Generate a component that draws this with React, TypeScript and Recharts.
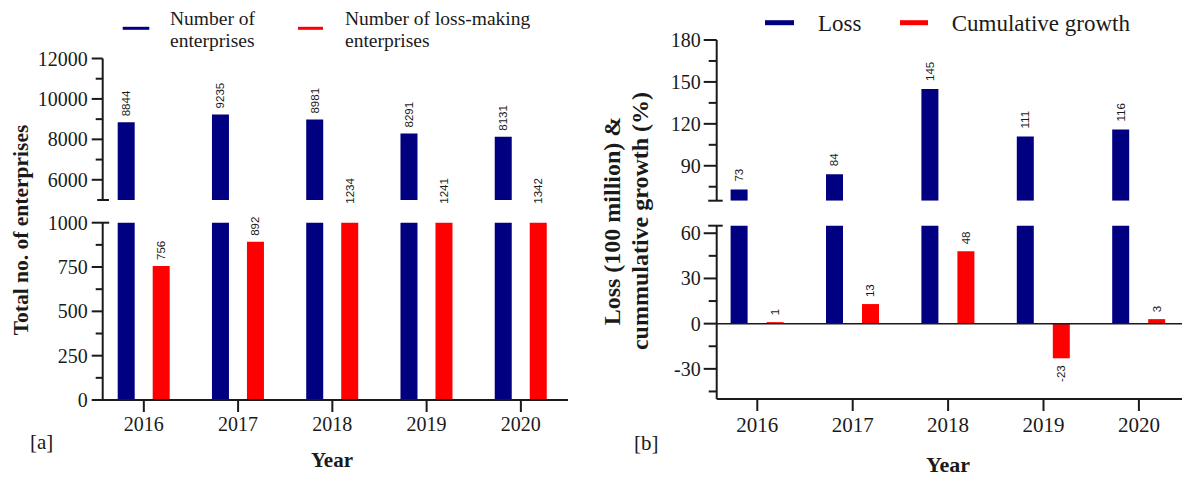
import { Bar, BarChart, LabelList, ReferenceLine, XAxis, YAxis } from "recharts";

const YEARS = ["2016", "2017", "2018", "2019", "2020"];
const ENTERPRISES = [8844, 9235, 8981, 8291, 8131];
const LOSS_MAKING = [756, 892, 1234, 1241, 1342];
const LOSS = [73, 84, 145, 111, 116];
const CUM_GROWTH = [1, 13, 48, -23, 3];

// broken y axes: upper and lower segments, minor ticks included
const ENT_TOP_TICKS = [5000, 6000, 7000, 8000, 9000, 10000, 11000, 12000];
const ENT_BOTTOM_TICKS = [0, 125, 250, 375, 500, 625, 750, 875, 1000];
const LOSS_TOP_TICKS = [65, 75, 90, 105, 120, 135, 150, 165, 180];
const LOSS_BOTTOM_TICKS = [-45, -30, -15, 0, 15, 30, 45, 60, 65];

const NAVY = "#000080";
const RED = "#ff0000";
const INK = "#1a1a1a";
const SERIF = '"Liberation Serif", "Times New Roman", serif';
const SANS = '"Liberation Sans", Arial, sans-serif';

const enterpriseData = YEARS.map((year, i) => ({ year, total: ENTERPRISES[i], lossMaking: LOSS_MAKING[i] }));
const lossData = YEARS.map((year, i) => ({ year, loss: LOSS[i], growth: CUM_GROWTH[i] }));

type TickStyle = {
    labelStep: number;
    major: number;
    minor: number;
    gap: number;
    fontSize: number;
    caps?: Record<number, [number, number]>;
};

// tickSize/tickMargin are 0 on the axis, so x is the axis line itself
const yTick = (s: TickStyle) => (props: any) => {
    const { x, y, payload } = props;
    const v = payload.value as number;
    const labelled = v % s.labelStep === 0;
    const cap = s.caps?.[v];
    const left = cap ? cap[0] : labelled ? s.major : s.minor;
    const right = cap ? cap[1] : 0;
    return (
        <g>
            <line x1={x - left} x2={x + right} y1={y} y2={y} stroke={INK} strokeWidth={2} />
            {labelled && (
                <text
                    x={x - s.major - s.gap}
                    y={y}
                    textAnchor="end"
                    dominantBaseline="central"
                    fontSize={s.fontSize}
                    fontFamily={SERIF}
                    fill={INK}
                >
                    {v}
                </text>
            )}
        </g>
    );
};

// vertical value label above (or below, for negatives) the bar;
// floor keeps labels of bars cut by the axis break just under the gap
const barLabel = (gap: number, floor?: number) => (props: any) => {
    const vb = props.viewBox ?? props;
    const { x, y, width, height } = vb;
    const value = Number(props.value);
    const cx = x + width / 2;
    const top = Math.min(y, y + height);
    const bottom = Math.max(y, y + height);
    let ay = value >= 0 ? top - gap : bottom + gap;
    if (floor !== undefined && value >= 0) ay = Math.max(ay, floor);
    return (
        <text
            x={cx}
            y={ay}
            transform={`rotate(-90 ${cx} ${ay})`}
            textAnchor={value >= 0 ? "start" : "end"}
            dominantBaseline="central"
            fontSize={11.5}
            fontFamily={SANS}
            fill={INK}
        >
            {value}
        </text>
    );
};

const axisLine = { stroke: INK, strokeWidth: 2 };
const yearTick = { fontSize: 20, fontFamily: SERIF, fill: INK };
const abs = { position: "absolute" as const, left: 0, top: 0 };

function EnterprisesPanel() {
    const pad = { left: -6, right: 0 };
    const margin = { right: 32, left: 42.7 };
    return (
        <>
            <div style={abs}>
                <BarChart width={600} height={215} data={enterpriseData} margin={{ ...margin, top: 58.5, bottom: 15 }} barSize={17} barGap={18}>
                    <XAxis dataKey="year" hide padding={pad} />
                    <YAxis
                        width={60}
                        domain={[5000, 12000]}
                        allowDataOverflow
                        ticks={ENT_TOP_TICKS}
                        interval={0}
                        tickSize={0}
                        tickMargin={0}
                        tickLine={false}
                        axisLine={axisLine}
                        tick={yTick({ labelStep: 2000, major: 11, minor: 7, gap: 4, fontSize: 20, caps: { 5000: [5.5, 6.3] } })}
                    />
                    <Bar dataKey="total" fill={NAVY} isAnimationActive={false}>
                        <LabelList dataKey="total" content={barLabel(6)} />
                    </Bar>
                    {/* loss-making counts never reach the upper segment; kept for bar placement */}
                    <Bar dataKey="lossMaking" fill="transparent" isAnimationActive={false} />
                </BarChart>
            </div>
            <div style={abs}>
                <BarChart width={600} height={480} data={enterpriseData} margin={{ ...margin, top: 222.7, bottom: 40 }} barSize={17} barGap={18}>
                    <XAxis
                        dataKey="year"
                        height={40}
                        padding={pad}
                        interval={0}
                        tickSize={12}
                        tickMargin={5}
                        tick={yearTick}
                        tickLine={axisLine}
                        axisLine={axisLine}
                    />
                    <YAxis
                        width={60}
                        domain={[0, 1000]}
                        allowDataOverflow
                        ticks={ENT_BOTTOM_TICKS}
                        interval={0}
                        tickSize={0}
                        tickMargin={0}
                        tickLine={false}
                        axisLine={axisLine}
                        tick={yTick({ labelStep: 250, major: 11, minor: 7, gap: 4, fontSize: 20, caps: { 1000: [11, 6.5] } })}
                    />
                    <Bar dataKey="total" fill={NAVY} isAnimationActive={false} />
                    <Bar dataKey="lossMaking" fill={RED} isAnimationActive={false}>
                        <LabelList dataKey="lossMaking" content={barLabel(6, 203.7)} />
                    </Bar>
                </BarChart>
            </div>
        </>
    );
}

function LossPanel() {
    const pad = { left: -7.1, right: -4.6 };
    const margin = { right: 0, left: 656.7 };
    return (
        <>
            <div style={abs}>
                <BarChart width={1182} height={215} data={lossData} margin={{ ...margin, top: 40, bottom: 14.3 }} barSize={17} barGap={19}>
                    <XAxis dataKey="year" hide padding={pad} />
                    <YAxis
                        width={60}
                        domain={[65, 180]}
                        allowDataOverflow
                        ticks={LOSS_TOP_TICKS}
                        interval={0}
                        tickSize={0}
                        tickMargin={0}
                        tickLine={false}
                        axisLine={axisLine}
                        tick={yTick({ labelStep: 30, major: 13, minor: 8, gap: 3, fontSize: 20, caps: { 65: [8.5, 6] } })}
                    />
                    <Bar dataKey="loss" fill={NAVY} isAnimationActive={false}>
                        <LabelList dataKey="loss" content={barLabel(8)} />
                    </Bar>
                    {/* growth stays below the break; kept for bar placement */}
                    <Bar dataKey="growth" fill="transparent" isAnimationActive={false} />
                </BarChart>
            </div>
            <div style={abs}>
                <BarChart width={1182} height={480} data={lossData} margin={{ ...margin, top: 225.7, bottom: 41 }} barSize={17} barGap={19}>
                    <XAxis
                        dataKey="year"
                        height={40}
                        padding={pad}
                        interval={0}
                        tickSize={12}
                        tickMargin={6}
                        tick={{ ...yearTick, fontSize: 21 }}
                        tickLine={axisLine}
                        axisLine={axisLine}
                    />
                    <YAxis
                        width={60}
                        domain={[-50, 65]}
                        allowDataOverflow
                        ticks={LOSS_BOTTOM_TICKS}
                        interval={0}
                        tickSize={0}
                        tickMargin={0}
                        tickLine={false}
                        axisLine={axisLine}
                        tick={yTick({ labelStep: 30, major: 13, minor: 8, gap: 3, fontSize: 20, caps: { 65: [8.5, 6] } })}
                    />
                    <ReferenceLine y={0} stroke={INK} strokeWidth={1.5} />
                    <Bar dataKey="loss" fill={NAVY} isAnimationActive={false} />
                    <Bar dataKey="growth" fill={RED} isAnimationActive={false}>
                        <LabelList dataKey="growth" content={barLabel(7)} />
                    </Bar>
                </BarChart>
            </div>
        </>
    );
}

// legends, axis titles and panel tags
function Annotations() {
    const serif = { fontFamily: SERIF, fill: INK };
    return (
        <svg width={1182} height={480} style={{ ...abs, pointerEvents: "none" }}>
            <rect x={122.7} y={26.8} width={26.6} height={3} fill={NAVY} />
            <text x={170} y={24.5} fontSize={19.5} {...serif}>Number of</text>
            <text x={170} y={46.5} fontSize={19.5} {...serif}>enterprises</text>
            <rect x={298} y={26.8} width={25} height={3} fill={RED} />
            <text x={345} y={24.5} fontSize={19.5} {...serif}>Number of loss-making</text>
            <text x={345} y={46.5} fontSize={19.5} {...serif}>enterprises</text>

            <rect x={765} y={20.2} width={29} height={5} fill={NAVY} />
            <text x={818} y={31} fontSize={23} {...serif}>Loss</text>
            <rect x={900} y={20.2} width={28} height={5} fill={RED} />
            <text x={951.7} y={30.5} fontSize={23} {...serif}>Cumulative growth</text>

            {/* x axis of panel a starts a little left of its y axis */}
            <line x1={92} x2={103} y1={400} y2={400} stroke={INK} strokeWidth={2} />

            <text x={28} y={230} transform="rotate(-90 28 230)" textAnchor="middle" fontSize={21.5} fontWeight="bold" {...serif}>
                Total no. of enterprises
            </text>
            <text x={620} y={221} transform="rotate(-90 620 221)" textAnchor="middle" fontSize={24} fontWeight="bold" {...serif}>
                Loss (100 million) &amp;
            </text>
            <text x={648} y={221} transform="rotate(-90 648 221)" textAnchor="middle" fontSize={24} fontWeight="bold" {...serif}>
                cummulative growth (%)
            </text>

            <text x={332} y={467} textAnchor="middle" fontSize={21} fontWeight="bold" {...serif}>Year</text>
            <text x={948} y={472} textAnchor="middle" fontSize={22} fontWeight="bold" {...serif}>Year</text>
            <text x={30} y={449} fontSize={21} {...serif}>[a]</text>
            <text x={634} y={450} fontSize={21} {...serif}>[b]</text>
        </svg>
    );
}

export default function App() {
    return (
        <div style={{ position: "relative", width: 1182, height: 480, overflow: "hidden", background: "#fff" }}>
            <style>{"body{margin:0}"}</style>
            <EnterprisesPanel />
            <LossPanel />
            <Annotations />
        </div>
    );
}
